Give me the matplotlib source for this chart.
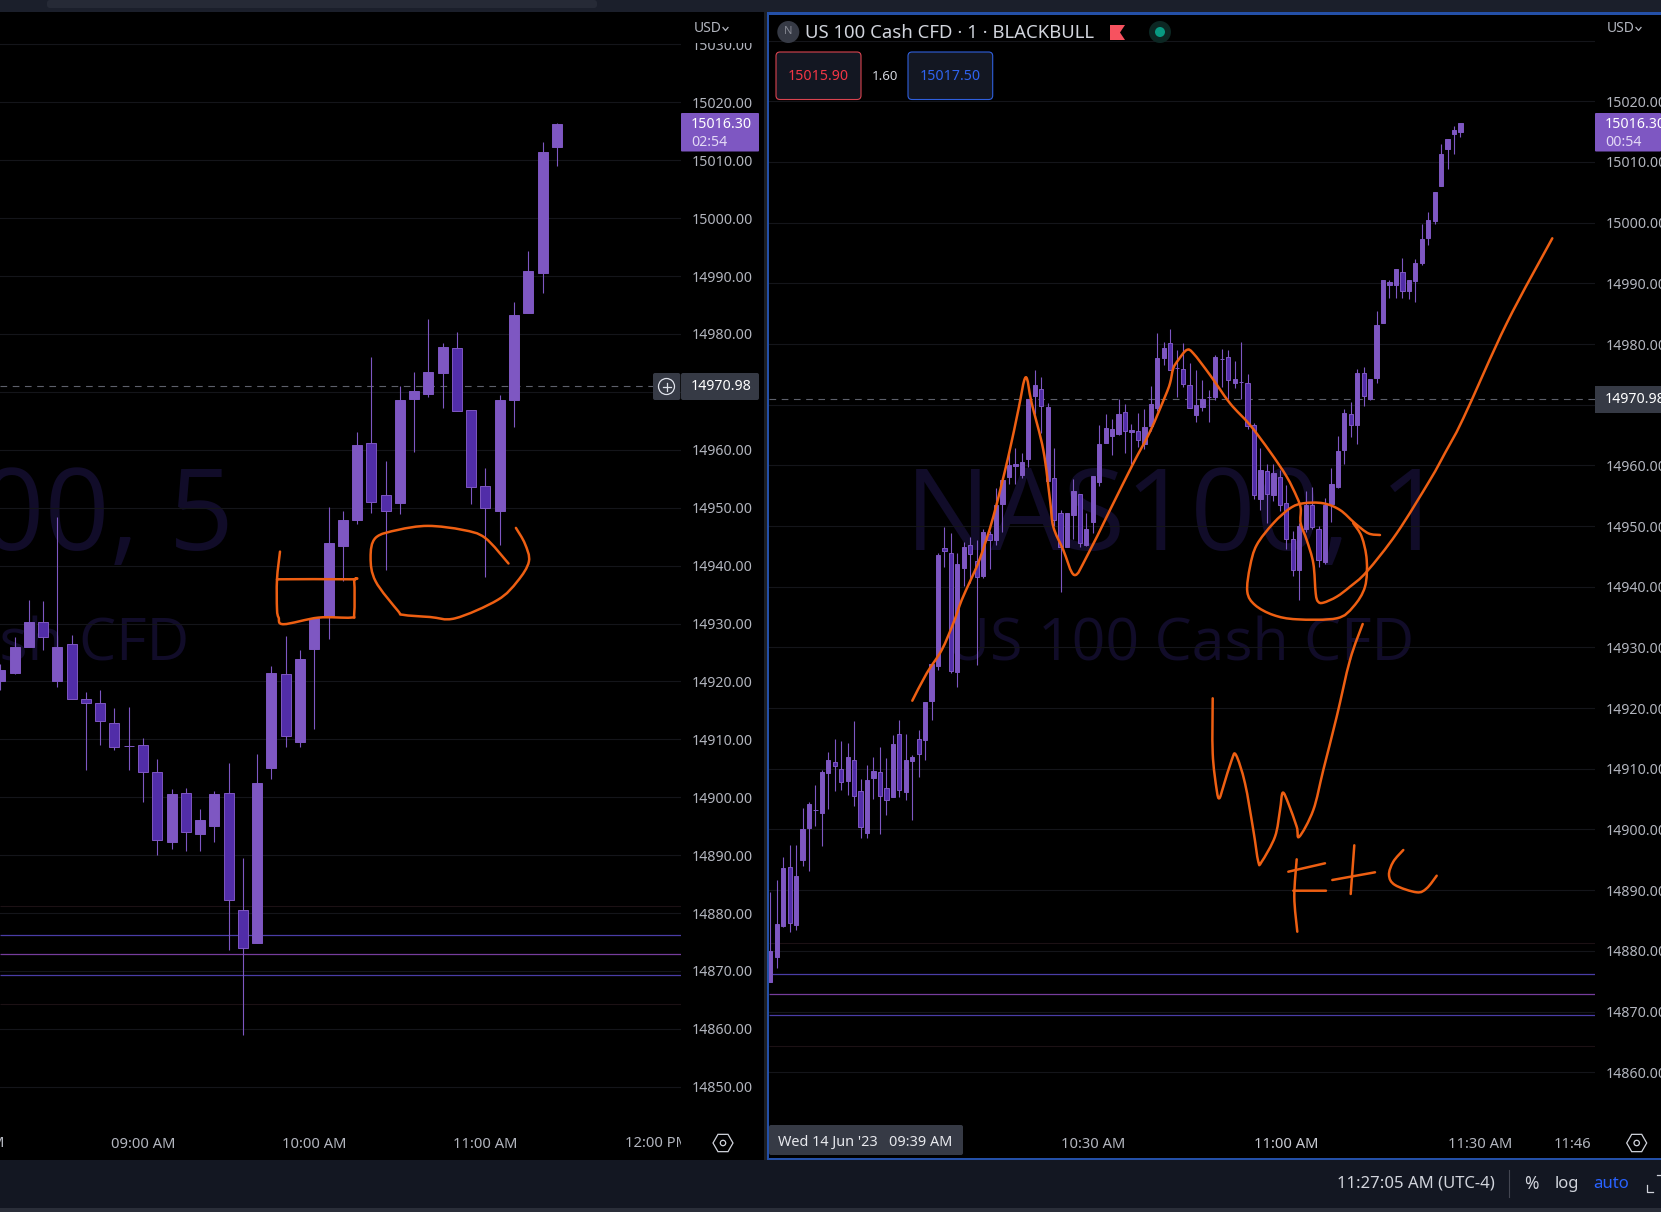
import matplotlib
matplotlib.use("Agg")
import matplotlib.pyplot as plt
from matplotlib.patches import Rectangle, FancyBboxPatch, Circle, RegularPolygon, Polygon, PathPatch
from matplotlib.path import Path

W, H = 1661, 1212
plt.rcParams['font.family'] = ['Noto Sans', 'DejaVu Sans']

# ---------- 5 minute chart (index 0 = 08:10) ----------
left_open = [14920.0,14921.5,14925.9,14930.2,14920.0,14926.4,14916.9,14916.3,14912.8,14908.8,
             14909.1,14904.3,14892.3,14900.7,14893.7,14895.1,14900.7,14880.6,14874.8,14905.0,
             14921.2,14909.5,14925.6,14931.2,14943.3,14947.8,14961.1,14952.2,14950.8,14968.7,
             14969.7,14973.3,14977.6,14966.8,14953.8,14949.5,14968.6,14983.6,14990.5,15012.3]
left_close = [14922.0,14926.0,14930.3,14927.6,14926.0,14916.9,14916.3,14913.2,14908.7,14908.8,
              14904.4,14892.6,14900.5,14894.0,14896.0,14900.5,14882.3,14874.0,14902.4,14921.4,
              14910.5,14923.9,14931.0,14943.9,14947.8,14960.8,14951.0,14949.5,14968.6,14970.1,
              14973.5,14977.8,14966.7,14953.6,14950.0,14968.6,14983.2,14990.8,15011.5,15016.3]
left_high = [14923.0,14927.6,14934.0,14933.9,14948.4,14928.0,14918.1,14918.6,14915.4,14915.5,
             14910.3,14906.6,14901.5,14901.6,14898.0,14901.0,14905.9,14889.5,14907.4,14922.7,
             14927.8,14925.4,14931.2,14950.1,14949.5,14963.0,14976.0,14958.1,14971.1,14973.4,
             14982.5,14978.4,14980.4,14966.8,14956.8,14969.5,14985.6,14994.3,15013.2,15016.5]
left_low = [14918.5,14921.2,14925.9,14925.5,14919.0,14916.9,14904.7,14909.0,14908.2,14904.7,
            14899.1,14890.0,14891.1,14890.8,14890.8,14892.2,14873.7,14859.0,14874.8,14903.2,
            14908.6,14908.6,14911.7,14927.3,14937.3,14947.1,14949.1,14939.2,14948.9,14959.6,
            14969.1,14967.3,14966.7,14950.6,14938.0,14943.5,14963.9,14983.6,14987.1,15009.0]
left_time_pos = [10, 22, 34]
left_time_labels = ["09:00 AM", "10:00 AM", "11:00 AM"]
left_clipped_pos = [-2, 46]
left_clipped_labels = ["08:00 AM", "12:00 PM"]

# ---------- 1 minute chart (index 0 = 09:40) ----------
right_open = [14874.8,14879.0,14884.1,14893.9,14884.2,14895.0,14900.3,14903.2,14902.7,14909.3,
              14911.2,14909.9,14908.0,14911.4,14906.3,14899.5,14908.5,14909.4,14906.9,14905.4,
              14915.7,14906.2,14911.3,14914.9,14914.7,14921.2,14926.9,14946.4,14945.6,14926.0,
              14943.1,14946.9,14944.3,14941.8,14948.7,14947.7,14953.6,14958.1,14959.9,14958.4,
              14961.0,14971.5,14972.6,14957.4,14958.0,14952.1,14946.5,14951.9,14955.3,14946.9,
              14950.7,14957.3,14963.7,14964.9,14965.2,14968.8,14965.5,14965.7,14963.6,14966.5,
              14969.5,14977.7,14980.1,14976.0,14975.9,14973.3,14968.3,14969.6,14971.2,14971.3,
              14977.5,14977.8,14973.6,14973.7,14973.5,14966.7,14954.5,14959.1,14955.1,14958.1,
              14953.8,14947.8,14942.8,14949.5,14953.4,14949.5,14944.0,14953.7,14956.5,14962.5,
              14968.4,14966.7,14975.3,14971.0,14974.4,14983.5,14989.7,14989.8,14991.8,14988.7,
              14990.4,14993.4,14997.4,15000.2,15006.0,15012.1,15014.6,15014.9]
right_close = [14879.9,14884.5,14893.7,14884.6,14892.4,14900.0,14904.2,14903.2,14909.5,14911.4,
               14910.5,14907.9,14911.9,14905.5,14900.4,14908.1,14909.6,14905.5,14904.9,14914.1,
               14906.5,14911.5,14912.0,14912.4,14921.0,14927.3,14945.3,14945.9,14926.2,14943.8,
               14946.6,14945.4,14941.6,14949.0,14947.7,14953.4,14957.6,14960.1,14960.3,14960.6,
               14970.9,14973.2,14969.8,14969.7,14951.0,14946.6,14952.2,14955.7,14947.2,14949.5,
               14958.2,14963.5,14966.1,14966.0,14968.5,14965.7,14965.8,14964.2,14966.4,14970.1,
               14977.7,14979.4,14975.7,14976.0,14973.4,14969.5,14970.0,14971.0,14971.2,14977.8,
               14977.5,14974.1,14974.3,14973.7,14966.5,14955.1,14959.3,14955.3,14958.7,14953.5,
               14947.9,14942.8,14950.0,14953.5,14949.8,14944.4,14953.4,14956.9,14962.3,14968.6,
               14966.6,14975.2,14971.4,14974.3,14983.1,14990.6,14990.2,14992.3,14988.7,14990.6,
               14993.3,14997.3,15000.5,15005.1,15011.4,15013.8,15015.2,15016.4]
right_high = [14889.7,14891.6,14895.4,14897.4,14897.4,14903.6,14904.6,14907.3,14909.8,14912.7,
              14914.9,14914.5,14914.2,14917.9,14908.4,14910.7,14912.0,14913.6,14911.8,14915.5,
              14918.1,14915.8,14912.2,14916.4,14921.0,14927.3,14945.6,14949.9,14948.8,14945.5,
              14947.3,14948.2,14947.7,14949.5,14949.2,14956.2,14957.6,14961.8,14962.9,14962.0,
              14971.0,14975.8,14974.5,14970.3,14962.8,14952.6,14952.2,14957.8,14955.3,14952.1,
              14958.2,14966.7,14968.4,14967.7,14971.0,14970.2,14966.8,14968.6,14969.3,14973.1,
              14981.8,14980.4,14982.4,14979.1,14980.2,14976.9,14975.8,14974.0,14972.5,14978.2,
              14979.2,14979.1,14977.2,14980.4,14975.0,14967.0,14962.9,14960.2,14960.2,14959.3,
              14956.7,14949.2,14950.5,14955.7,14956.5,14950.0,14954.7,14959.5,14964.9,14969.3,
              14970.5,14975.9,14976.2,14974.3,14985.4,14990.6,14990.5,14992.4,14994.1,14990.6,
              14994.0,14999.8,15001.7,15005.1,15013.0,15013.8,15016.0,15016.4]
right_low = [14874.8,14877.2,14884.0,14883.1,14883.5,14894.0,14893.2,14900.5,14897.3,14903.4,
             14906.3,14906.5,14905.7,14903.9,14898.6,14898.6,14905.1,14899.3,14902.4,14905.4,
             14905.3,14904.8,14901.5,14908.7,14911.4,14918.0,14926.3,14943.2,14925.8,14923.5,
             14940.1,14940.7,14927.1,14941.5,14943.0,14946.8,14949.0,14956.9,14957.0,14957.9,
             14959.7,14968.4,14965.3,14957.0,14950.0,14939.1,14946.5,14947.9,14946.5,14946.7,
             14948.9,14956.6,14963.7,14961.7,14965.0,14962.0,14960.2,14963.0,14962.7,14965.7,
             14969.0,14976.5,14975.7,14971.3,14973.0,14969.5,14967.1,14969.0,14967.1,14970.7,
             14973.0,14970.9,14972.8,14970.9,14966.0,14954.5,14952.7,14950.5,14954.1,14952.5,
             14946.2,14941.8,14937.8,14949.0,14949.5,14943.2,14943.8,14950.7,14956.3,14960.3,
             14964.6,14963.6,14969.8,14970.8,14973.5,14983.5,14987.6,14987.6,14987.6,14987.4,
             14986.9,14993.0,14996.3,14999.7,15006.0,15008.8,15011.3,15014.2]
right_time_pos = [50, 80, 110, 124.3]
right_time_labels = ["10:30 AM", "11:00 AM", "11:30 AM", "11:46"]

price_ticks = [14850,14860,14870,14880,14890,14900,14910,14920,14930,14940,14950,14960,14970,
               14980,14990,15000,15010,15020,15030]
last_price = 14970.98
band_levels = [14876.2, 14872.85, 14869.35]
band_colors = ["#4a3da6", "#753c9c", "#4a3da6"]
faint_levels = [14881.3, 14864.3]

# ---------- hand-drawn pen strokes (screen pixels) ----------
pen_rect = [(280,551.6),(277,579.3),(277,609),(278.6,617.6),(283.6,624.2),(318.4,617.6),(350.7,617.6),
            (354.2,613.7),(354.2,581.3),(350.7,579.3),(277,579.3)]
pen_left_loop = [(508.5,563.5),(485,537.8),(462.7,529.9),(427.9,525.9),(398,529.9),(375.6,537.8),(370.6,557.5),
                 (375.6,581.3),(398,610.9),(403,614.8),(430,617),(455.2,618.3),(497.5,600),(517.4,581.3),
                 (528.9,561.5),(524.9,543.7),(515.9,527.9)]
pen_trend = [(912.3,700.7),(926.7,673.3),(941.7,650),(953.3,623.3),(961.7,600),(970.7,580),(980,558.3),
             (993.3,516.7),(1008.3,456.7),(1018.3,410),(1025.7,377.3),(1031.7,403.3),(1043.3,450),(1050,500),
             (1053.3,526.7),(1063.3,550),(1074.3,575),(1086.7,556.7),(1110,510),(1133.3,463.3),(1150,431.7),
             (1165,396.7),(1170,383.3),(1173.3,368.3),(1178.3,360),(1186.7,350),(1193.3,353.3),(1210,375),
             (1230,403.3),(1250,425),(1270,451.7),(1286.7,476.7),(1296.7,496.7),(1300.7,508.3),(1300.7,523.3),
             (1306.7,540),(1313.3,563.3),(1315.7,593.3),(1318,601.5),(1323.3,602.7),(1336.7,596.7),(1350,586.7),
             (1366.7,571.7),(1396.7,533.3),(1430,480),(1445,453),(1463.3,418.3),(1506.7,323.3),(1552.3,238.3)]
pen_right_loop = [(1380,535),(1368.3,533.3),(1355,523.3),(1340,510),(1323.3,503.3),(1303.3,503.3),(1290,508.3),
                  (1273.3,523.3),(1256.7,545),(1250,566.7),(1247.3,591.7),(1255,605),(1273.3,615),(1296.7,619.3),
                  (1336.7,618.3),(1353.3,606.7),(1365,586.7),(1366.7,560),(1361.7,536.7),(1353.3,523.3)]
pen_w = [(1212.7,698.3),(1212.7,753.3),(1216.7,790),(1219.3,798.3),(1223.3,786.7),(1231.7,760),(1236,755),
         (1245,783.3),(1253.3,830),(1258.3,861.7),(1261.7,861.7),(1275,836.7),(1280,810),(1282.7,792.7),
         (1288.3,803.3),(1296.7,826.7),(1299.3,836.7),(1313.3,810),(1323.3,770),(1336.7,716.7),(1350,660),(1362.7,624)]
pen_f_stem = [(1296.7,859.3),(1294.3,896.7),(1297.3,931.7)]
pen_f_top = [(1288.3,871.7),(1325,863.3)]
pen_f_mid = [(1293.3,890.7),(1326,890.7)]
pen_plus_h = [(1332.3,880),(1375,872.3)]
pen_plus_v = [(1354.3,845.3),(1350.7,894)]
pen_c = [(1403.3,850),(1393.3,861.7),(1389,875),(1395,885),(1416.7,892.3),(1426.7,888.3),(1436.7,875.7)]

UP = "#7E57C2"
DOWN = "#512DA8"
GRID = "#14151a"
TXT = "#b2b5be"
ORANGE = "#EE5F12"
PANEL = "#131722"
BLUE = "#2450A8"
FS = 10.6


def px_axes(x0, y0, x1, y1, **kw):
    return fig.add_axes([x0 / W, 1 - y1 / H, (x1 - x0) / W, (y1 - y0) / H], **kw)


def candles(ax, o, c, h, l, width):
    xs = list(range(len(o)))
    ax.vlines(xs, l, h, color=UP, lw=0.8, zorder=3)
    colors = [UP if ci >= oi else DOWN for oi, ci in zip(o, c)]
    bottoms = [min(a, b) for a, b in zip(o, c)]
    heights = [abs(a - b) for a, b in zip(o, c)]
    ax.bar(xs, heights, width=width, bottom=bottoms, color=colors, edgecolor=UP, linewidth=0.7, zorder=4)


def dress(ax, xlim, ylim, hidden_top=False):
    ax.patch.set_alpha(0)
    for s in ax.spines.values():
        s.set_visible(False)
    ax.yaxis.tick_right()
    ax.set_yticks(price_ticks)
    labels = [f"{p:.2f}" for p in price_ticks]
    if hidden_top:
        labels[-1] = ""
    ax.set_yticklabels(labels, color=TXT, fontsize=10.2)
    ax.tick_params(axis='y', length=0, pad=7.5)
    ax.tick_params(axis='x', length=0, pad=9)
    ax.grid(axis='y', color=GRID, lw=0.8, zorder=0)
    ax.set_axisbelow(True)
    ax.hlines(faint_levels, *xlim, color="#1c1114", lw=0.8, zorder=1)
    ax.hlines(band_levels, *xlim, color=band_colors, lw=0.9, zorder=2)
    ax.axhline(last_price, color="#5d606b", lw=0.8, dashes=(6, 5), zorder=2)
    ax.set_xlim(*xlim)
    ax.set_ylim(*ylim)


def smooth_path(points):
    """Bezier path through the pen points (Catmull-Rom handles)."""
    verts = [points[0]]
    codes = [Path.MOVETO]
    n = len(points)
    for i in range(n - 1):
        p0 = points[max(i - 1, 0)]
        p1 = points[i]
        p2 = points[i + 1]
        p3 = points[min(i + 2, n - 1)]
        c1 = (p1[0] + (p2[0] - p0[0]) / 6, p1[1] + (p2[1] - p0[1]) / 6)
        c2 = (p2[0] - (p3[0] - p1[0]) / 6, p2[1] - (p3[1] - p1[1]) / 6)
        verts += [c1, c2, p2]
        codes += [Path.CURVE4] * 3
    return Path(verts, codes)


fig = plt.figure(figsize=(W / 100, H / 100), dpi=100, facecolor="black")

# background and watermarks
bg = fig.add_axes([0, 0, 1, 1], zorder=0)
bg.set_xlim(0, W); bg.set_ylim(H, 0); bg.axis("off")
WM = "#110c29"
bg.text(234, 520, "NAS100, 5", ha="right", va="center", color=WM, fontsize=82, family="Open Sans")
bg.text(189.5, 645, "US 100 Cash CFD", ha="right", va="center", color=WM, fontsize=42.5, family="Open Sans")
bg.text(1175, 520, "NAS100, 1", ha="center", va="center", color=WM, fontsize=82, family="Open Sans")
bg.text(1181, 645, "US 100 Cash CFD", ha="center", va="center", color=WM, fontsize=42.5, family="Open Sans")

# left candles: x(i)=14.27*i, y: 5.79 px per point
axL = px_axes(0, 12, 681, 1125, zorder=1)
candles(axL, left_open, left_close, left_high, left_low, 0.70)
dress(axL, (-0.02, 47.7), (14843.4, 15035.6))
axL.set_xticks(left_time_pos)
axL.set_xticklabels(left_time_labels, color=TXT, fontsize=FS)
axL.set_xlim(-0.02, 47.7)
for pos, lab in zip(left_clipped_pos, left_clipped_labels):
    t = axL.text(pos, -0.0165, lab, color=TXT, fontsize=FS, ha="center", va="center",
                 transform=axL.get_xaxis_transform())
    t.set_clip_on(True)
    t.set_clip_box(matplotlib.transforms.Bbox([[-40, 0], [681, 200]]))

# right candles: x(k)=770.3+6.45*k, y: 6.067 px per point
axR = px_axes(769, 16, 1595, 1125, zorder=1)
candles(axR, right_open, right_close, right_high, right_low, 0.66)
dress(axR, (-0.2, 127.86), (14851.3, 15034.06), hidden_top=True)
axR.set_xticks(right_time_pos)
axR.set_xticklabels(right_time_labels, color=TXT, fontsize=FS)
axR.set_xlim(-0.2, 127.86)
axR.get_xticklabels()[1].set_color("#c8cad2")
axR.get_xticklabels()[1].set_fontweight("bold")

# overlay: interface chrome and pen ink
ov = fig.add_axes([0, 0, 1, 1], zorder=3)
ov.set_xlim(0, W); ov.set_ylim(H, 0); ov.axis("off"); ov.patch.set_alpha(0)


def box(x0, y0, x1, y1, fc, ec="none", lw=0, z=5, r=0):
    if r:
        p = FancyBboxPatch((x0, y0), x1 - x0, y1 - y0, boxstyle=f"round,pad=0,rounding_size={r}",
                           fc=fc, ec=ec, lw=lw, zorder=z)
    else:
        p = Rectangle((x0, y0), x1 - x0, y1 - y0, fc=fc, ec=ec, lw=lw, zorder=z)
    ov.add_patch(p)


# frames
box(0, 0, W, 12, "#1b1f2b")
box(47, 0, 597, 8, "#262a36", r=3)
box(0, 1160, W, 1212, PANEL)
box(0, 1208, W, 1212, "#2a2e39")
box(763.5, 12, 766.5, 1160, "#1c1f26")
box(766.5, 12, 769, 1160, BLUE)
box(766.5, 12, W, 14.5, BLUE)
box(766.5, 1157.5, W, 1160, BLUE)

# USD headers
for ux, cx in ((694, 723), (1607, 1636)):
    box(ux - 12, 15, ux + 60, 42.5, "black", z=5)
    ov.text(ux, 29, "USD", color=TXT, fontsize=10, va="center", ha="left", zorder=6)
    ov.plot([cx, cx + 2.5, cx + 5], [27.5, 30.5, 27.5], color=TXT, lw=0.9, zorder=6)

# price labels
for x0, x1, tx, cd in ((681, 759, 691, "02:54"), (1595, 1661, 1605, "00:54")):
    box(x0, 113, x1, 151.5, "#7E57C2", r=1)
    ov.text(tx, 124, "15016.30", color="white", fontsize=10.2, fontweight="bold", va="center", zorder=7)
    ov.text(tx, 142, cd, color="#e3d9f5", fontsize=10.2, va="center", zorder=7)
box(653, 373, 680.3, 400, "#363a45", r=2)
ov.add_patch(Circle((666.5, 386.5), 8, fc="none", ec="#e0e3eb", lw=0.9, zorder=7))
ov.plot([662.5, 670.5], [386.5, 386.5], color="#e0e3eb", lw=0.9, zorder=7)
ov.plot([666.5, 666.5], [382.5, 390.5], color="#e0e3eb", lw=0.9, zorder=7)
box(681, 373, 759, 400, "#363a45", r=2)
ov.text(691, 386.5, "14970.98", color="white", fontsize=10.2, fontweight="bold", va="center", zorder=7)
box(1595, 386, 1661, 412.7, "#363a45")
ov.text(1605, 399.5, "14970.98", color="white", fontsize=10.2, fontweight="bold", va="center", zorder=7)

# header of right chart
ov.add_patch(Circle((788.3, 32), 11, fc="#363a45", ec="none", zorder=6))
ov.text(788.3, 32, "N", color="#868993", fontsize=8, fontweight="bold", ha="center", va="center", zorder=7)
ov.text(805, 32.5, "US 100 Cash CFD · 1 · BLACKBULL", color="#d1d4dc", fontsize=13.35, va="center", zorder=7)
ov.add_patch(Polygon([(1110, 25), (1125, 25), (1120, 32.5), (1125, 40), (1110, 40)], fc="#f7525f", ec="none", zorder=7))
ov.add_patch(Circle((1160, 32), 11, fc="#0c2723", ec="none", zorder=6))
ov.add_patch(Circle((1160, 32), 5, fc="#089981", ec="none", zorder=7))
box(776, 52, 861, 99.5, PANEL, ec="#d9434f", lw=0.8, r=4)
ov.text(818.5, 76, "15015.90", color="#f23645", fontsize=10.2, ha="center", va="center", zorder=7)
ov.text(885, 76, "1.60", color="#d1d4dc", fontsize=9.5, ha="center", va="center", zorder=7)
box(908, 52, 992.7, 99.5, PANEL, ec="#2f5fdc", lw=0.8, r=4)
ov.text(950, 76, "15017.50", color="#2f63f0", fontsize=10.2, ha="center", va="center", zorder=7)

# crosshair date
box(769, 1125, 963, 1155, "#363a45", r=2)
ov.text(778, 1142.5, "Wed 14 Jun '23   09:39 AM", color="#e8e9ee", fontsize=10.4, va="center", zorder=7)

# settings hexagons
for cx in (723, 1636.7):
    ov.add_patch(RegularPolygon((cx, 1143), 6, radius=10, orientation=0.5236, fc="none", ec="#d1d4dc", lw=0.9, zorder=7))
    ov.add_patch(Circle((cx, 1143), 2.7, fc="none", ec="#d1d4dc", lw=0.9, zorder=7))

# status bar
ov.text(1336.7, 1184, "11:27:05 AM (UTC-4)", color="#d1d4dc", fontsize=12, va="center", zorder=7)
ov.plot([1509.3, 1509.3], [1170, 1197], color="#434651", lw=0.8, zorder=7)
ov.text(1531.7, 1184, "%", color="#d1d4dc", fontsize=12.5, ha="center", va="center", zorder=7)
ov.text(1566.7, 1184, "log", color="#d1d4dc", fontsize=12, ha="center", va="center", zorder=7)
ov.text(1610.7, 1184, "auto", color="#2962ff", fontsize=12, ha="center", va="center", zorder=7)
ov.plot([1647, 1647, 1653], [1185, 1192, 1192], color="#d1d4dc", lw=0.9, zorder=7)
ov.plot([1657, 1661], [1175, 1175], color="#d1d4dc", lw=0.9, zorder=7)

# pen ink
for stroke in (pen_rect, pen_left_loop, pen_trend, pen_right_loop, pen_w, pen_f_stem,
               pen_f_top, pen_f_mid, pen_plus_h, pen_plus_v, pen_c):
    ov.add_patch(PathPatch(smooth_path(stroke), fc="none", ec=ORANGE, lw=1.8,
                           capstyle="round", joinstyle="round", zorder=8))

fig.savefig("out.png", dpi=100, facecolor="black")
